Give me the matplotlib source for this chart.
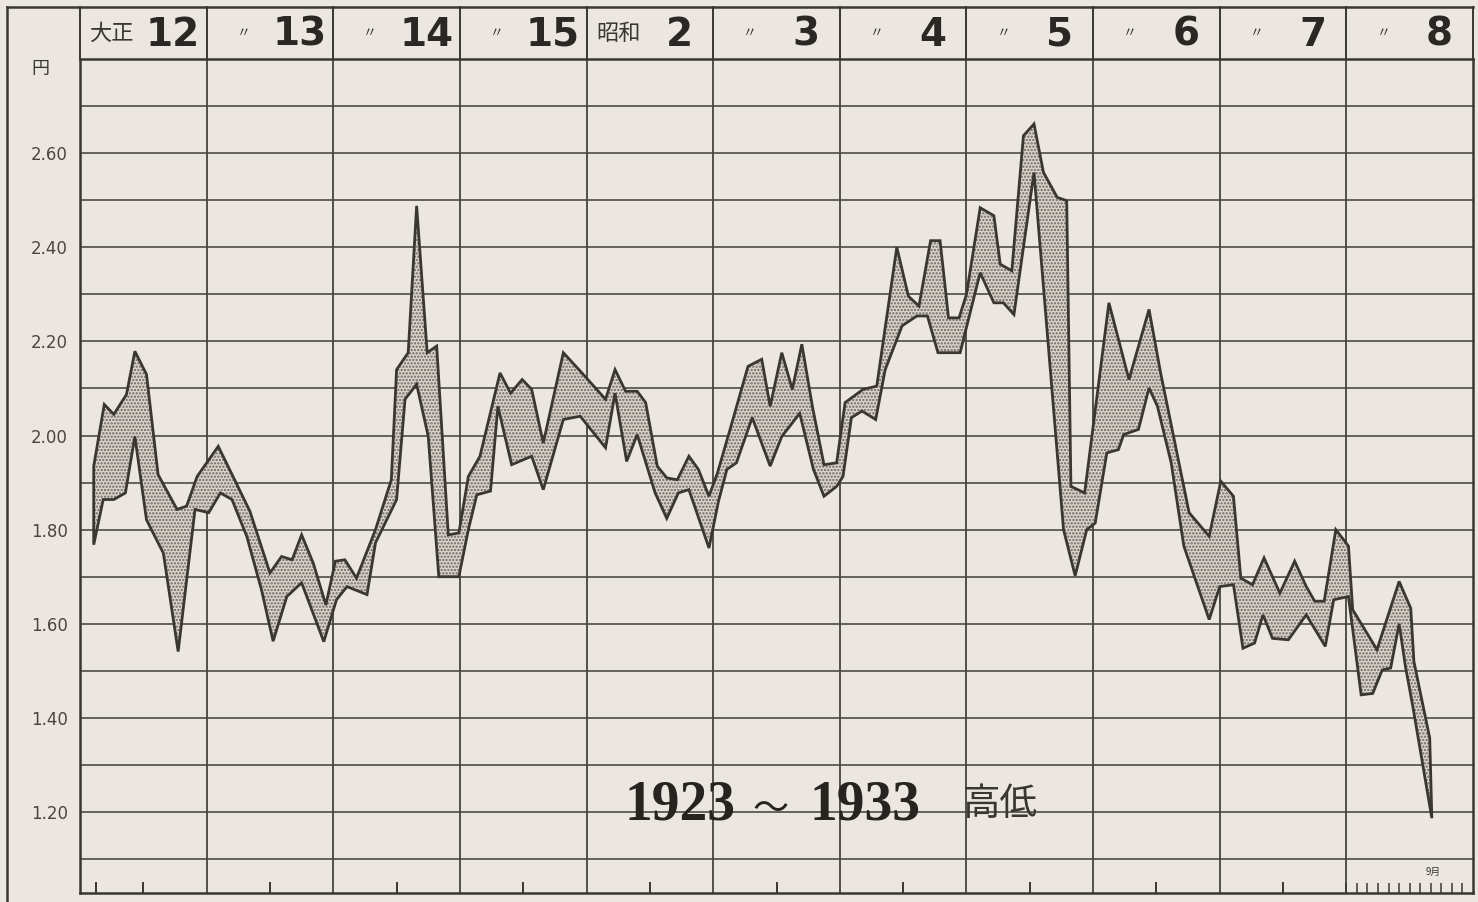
import numpy as np
import matplotlib
matplotlib.use("Agg")
import matplotlib.pyplot as plt

# monthly price band, Jan 1923 = month 0
hi_m = [1.3, 2.3, 3.2, 4.4, 5.2, 6.3, 7.4, 9.2, 10.1, 11.1, 13.1, 14.5, 16.1, 18.0, 19.1, 20.1,
        21.0, 22.1, 23.3, 24.2, 25.1, 26.2, 28.0, 29.5, 30.0, 31.1, 31.9, 32.9, 33.8, 34.9,
        35.9, 36.8, 37.9, 39.8, 40.8, 41.9, 42.8, 43.9, 45.8, 47.4, 49.8, 50.7, 51.7, 52.8,
        53.6, 54.7, 55.6, 56.6, 57.7, 58.6, 59.6, 60.4, 61.6, 63.3, 64.6, 65.4, 66.5, 67.5,
        68.4, 69.4, 70.5, 71.7, 72.5, 74.2, 75.5, 77.4, 78.5, 79.5, 80.6, 81.5, 82.3, 83.3,
        84.0, 85.3, 86.6, 87.2, 88.3, 89.4, 90.4, 91.3, 92.6, 93.5, 93.9, 95.2, 97.5, 99.4,
        101.3, 102.4, 104.1, 105.1, 107.0, 108.1, 109.3, 110.0, 111.1, 112.2, 113.7, 115.1,
        116.2, 117.0, 117.9, 119.0, 120.2, 120.6, 122.9, 125.0, 126.1, 126.4, 127.9, 128.1]
hi_v = [1.935, 2.066, 2.045, 2.087, 2.179, 2.130, 1.917, 1.843, 1.850, 1.913, 1.977, 1.913,
        1.839, 1.708, 1.743, 1.736, 1.789, 1.729, 1.640, 1.733, 1.736, 1.697, 1.800, 1.906,
        2.140, 2.176, 2.488, 2.176, 2.190, 1.789, 1.793, 1.913, 1.956, 2.133, 2.090, 2.119,
        2.098, 1.984, 2.176, 2.137, 2.077, 2.140, 2.094, 2.094, 2.070, 1.935, 1.910, 1.906,
        1.956, 1.928, 1.871, 1.920, 2.013, 2.147, 2.162, 2.062, 2.176, 2.098, 2.194, 2.062,
        1.938, 1.942, 2.070, 2.098, 2.105, 2.400, 2.296, 2.275, 2.414, 2.414, 2.250, 2.250,
        2.300, 2.484, 2.467, 2.364, 2.350, 2.637, 2.662, 2.559, 2.506, 2.499, 1.892, 1.878,
        2.282, 2.119, 2.268, 2.133, 1.946, 1.836, 1.786, 1.903, 1.871, 1.697, 1.683, 1.740,
        1.665, 1.733, 1.679, 1.648, 1.648, 1.800, 1.765, 1.630, 1.545, 1.690, 1.633, 1.520,
        1.357, 1.187]

lo_m = [1.3, 2.2, 3.2, 4.3, 5.2, 6.3, 7.9, 9.3, 10.9, 12.2, 13.3, 14.4, 15.8, 17.2, 18.3,
        19.6, 21.0, 23.1, 24.3, 25.3, 27.2, 28.0, 30.0, 30.8, 31.9, 33.0, 34.0, 35.9, 36.8,
        37.6, 38.9, 39.6, 40.9, 42.8, 43.9, 45.8, 47.4, 49.8, 50.7, 51.8, 52.8, 54.5, 55.6,
        56.7, 57.7, 59.6, 60.5, 61.3, 62.2, 63.7, 65.4, 66.5, 68.2, 69.5, 70.5, 71.7, 72.3,
        73.1, 74.1, 75.4, 76.3, 77.9, 79.3, 80.3, 81.3, 83.4, 85.3, 86.6, 87.5, 88.5, 90.4,
        93.2, 94.3, 95.4, 96.2, 97.3, 98.4, 98.9, 100.3, 101.3, 102.1, 103.4, 104.6, 107.0,
        108.0, 109.3, 110.2, 111.3, 112.1, 113.0, 114.5, 116.2, 118.0, 118.8, 120.2, 121.4,
        122.5, 123.4, 124.2, 125.0, 125.6, 126.3, 128.1]
lo_v = [1.768, 1.864, 1.864, 1.878, 1.998, 1.821, 1.750, 1.541, 1.843, 1.836, 1.878, 1.864,
        1.786, 1.672, 1.563, 1.658, 1.687, 1.562, 1.651, 1.679, 1.662, 1.772, 1.864, 2.077,
        2.109, 1.998, 1.700, 1.700, 1.800, 1.874, 1.882, 2.062, 1.938, 1.956, 1.885, 2.034,
        2.041, 1.974, 2.090, 1.945, 2.002, 1.878, 1.824, 1.878, 1.885, 1.761, 1.860, 1.928,
        1.942, 2.038, 1.935, 1.998, 2.047, 1.928, 1.871, 1.892, 1.913, 2.038, 2.052, 2.034,
        2.140, 2.233, 2.254, 2.254, 2.176, 2.176, 2.346, 2.282, 2.282, 2.257, 2.559, 1.800,
        1.702, 1.800, 1.814, 1.963, 1.970, 2.002, 2.013, 2.101, 2.062, 1.942, 1.765, 1.609,
        1.679, 1.683, 1.548, 1.559, 1.619, 1.569, 1.566, 1.619, 1.552, 1.651, 1.658, 1.449,
        1.452, 1.502, 1.506, 1.600, 1.509, 1.424, 1.187]

era_labels = ["大正", "〃", "〃", "〃", "昭和", "〃", "〃", "〃", "〃", "〃", "〃"]
year_labels = ["12", "13", "14", "15", "2", "3", "4", "5", "6", "7", "8"]
ytick_vals = [1.20, 1.40, 1.60, 1.80, 2.00, 2.20, 2.40, 2.60]
ytick_text = ["1.20", "1.40", "1.60", "1.80", "2.00", "2.20", "2.40", "2.60"]

PAPER = '#ebe7e0'
INK = '#3a3632'
JP = ['Noto Sans CJK JP', 'DejaVu Sans']

plt.rcParams['hatch.linewidth'] = 1.1

fig = plt.figure(figsize=(14.78, 9.02), dpi=100, facecolor=PAPER)
ax = fig.add_axes([80/1478, 9/902, 1393/1478, 834/902])
ax.set_facecolor(PAPER)
ax.set_xlim(0, 132)
ax.set_ylim(1.028, 2.80)

# ruled grid
for lv in np.arange(1.1, 2.75, 0.1):
    ax.axhline(lv, color='#47433e', lw=1.15, zorder=1)
for k in range(1, 11):
    ax.axvline(12 * k, color='#47433e', lw=1.3, zorder=1)
for s in ax.spines.values():
    s.set_color(INK)
    s.set_linewidth(1.8)

# high-low band
xp = np.concatenate([hi_m, lo_m[::-1]])
yp = np.concatenate([hi_v, lo_v[::-1]])
ax.fill(xp, yp, facecolor='#d9d3cc', edgecolor='#6b655f', hatch='.....', lw=0, zorder=2)
ax.fill(xp, yp, facecolor='none', edgecolor=INK, lw=2.0, zorder=3)

# header row with era / year
trans = ax.get_xaxis_transform()
htop = 1 + 52 / 834
for k in range(12):
    ax.plot([12 * k, 12 * k], [1, htop], color=INK, lw=1.4, transform=trans, clip_on=False)
ax.plot([-0.0524, 1.0], [htop, htop], color=INK, lw=1.8, transform=ax.transAxes, clip_on=False)
ax.plot([-0.0524, -0.0524], [-0.02, htop], color=INK, lw=1.8, transform=ax.transAxes, clip_on=False)

for k, (era, yr) in enumerate(zip(era_labels, year_labels)):
    if era == "〃":
        ax.text(12 * k + 3.5, 1.031, era, transform=trans, ha='center', va='center',
                fontsize=10, color=INK, family=JP)
    else:
        ax.text(12 * k + 3.0, 1.031, era, transform=trans, ha='center', va='center',
                fontsize=16, color=INK, family=JP)
    ax.text(12 * k + 8.8, 1.029, yr, transform=trans, ha='center', va='center',
            fontsize=28, fontweight='heavy', color='#2a2724', family='DejaVu Sans')

# y axis labels
ax.set_yticks(ytick_vals)
ax.set_yticklabels(ytick_text, fontsize=12, color='#4a4540')
for lab in ax.get_yticklabels():
    lab.set_ha('center')
ax.tick_params(axis='y', length=0, pad=22)
ax.text(-0.0287, 0.988, "円", transform=ax.transAxes, ha='center', va='center',
        fontsize=13, color=INK, family=JP)

# bottom ticks: mid-year, monthly in the last year
ax.set_xticks([1.5] + [12 * k + 6 for k in range(10)])
ax.set_xticks([120 + i for i in range(12)], minor=True)
ax.tick_params(axis='x', which='both', direction='in', labelbottom=False, color=INK)
ax.tick_params(axis='x', which='major', length=8, width=1.4)
ax.tick_params(axis='x', which='minor', length=7, width=1.1)
ax.text(128.2, 1.072, "9月", ha='center', va='center', fontsize=7, color=INK, family=JP)

# title
ax.text(56.9, 1.213, "1923", ha='center', va='center', fontsize=40, fontweight='bold',
        family='Liberation Serif', color='#262320')
ax.text(65.4, 1.205, "〜", ha='center', va='center', fontsize=26, family=JP, color='#262320')
ax.text(74.4, 1.213, "1933", ha='center', va='center', fontsize=40, fontweight='bold',
        family='Liberation Serif', color='#262320')
ax.text(87.2, 1.215, "高低", ha='center', va='center', fontsize=27, family=JP, color=INK)

fig.savefig("out.png", dpi=100, facecolor=PAPER)
